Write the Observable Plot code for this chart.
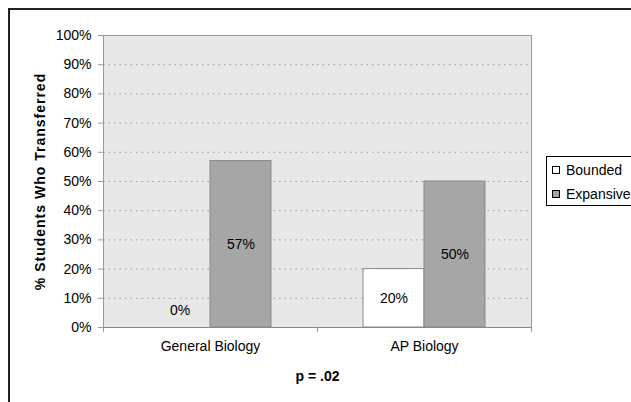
<!DOCTYPE html>
<html>
<head>
<meta charset="utf-8">
<script src="https://cdn.jsdelivr.net/npm/d3@7"></script>
<script src="https://cdn.jsdelivr.net/npm/@observablehq/plot@0.6"></script>
<style>
  html, body { margin: 0; padding: 0; background: #fff; overflow: hidden; }
  #wrap { position: relative; width: 631px; height: 402px; font-family: "Liberation Sans", Arial, sans-serif; overflow: hidden; }
  #chart svg { display: block; }
  .edge { position: absolute; z-index: 5; background: #222; pointer-events: none; }
  #legend { position: absolute; z-index: 6; left: 546px; top: 156px; width: 120px; height: 50px; border: 1px solid #000; background: #fff; font-size: 14px; box-sizing: border-box; }
  .item { position: absolute; left: 5px; display: flex; align-items: center; line-height: 16px; }
  .sw { width: 6px; height: 6px; border: 1px solid #000; margin-right: 6px; }
  svg [aria-label="y-axis label"] { font-weight: bold; letter-spacing: 1px; }
  svg [aria-label="fx-axis label"] { font-weight: bold; }
</style>
</head>
<body>
<div id="wrap">
  <div id="chart"></div>
  <div class="edge" style="left:8px; top:8px; width:640px; height:2px;"></div>
  <div class="edge" style="left:8px; top:8px; width:2px; height:420px;"></div>
  <div id="legend"></div>
</div>
<script>
const categories = ["General Biology", "AP Biology"];
const series = ["Bounded", "Expansive"];
const bounded = [0, 20];
const expansive = [57, 50];
const yTicks = [0, 10, 20, 30, 40, 50, 60, 70, 80, 90, 100];
const colors = ["#ffffff", "#a6a6a6"];
const yLabel = "% Students Who Transferred";
const xLabel = "p = .02";

const data = [];
categories.forEach((c, i) => {
  data.push({category: c, series: series[0], value: bounded[i]});
  data.push({category: c, series: series[1], value: expansive[i]});
});

const W = 631, H = 402, mt = 35, mb = 75, ml = 103, mr = 100;
const plotH = H - mt - mb;
const pct = d => d + "%";

const chart = Plot.plot({
  width: W, height: H,
  marginTop: mt, marginBottom: mb, marginLeft: ml, marginRight: mr,
  style: {fontFamily: "'Liberation Sans', Arial, sans-serif", fontSize: "14px", background: "transparent", color: "#000"},
  fx: {domain: categories, padding: 0},
  x: {domain: series, paddingInner: 0, paddingOuter: 0.754, axis: null},
  y: {domain: [0, 100]},
  color: {domain: series, range: colors},
  marks: [
    Plot.frame({facet: "super", fill: "#e8e8e8", stroke: null}),
    Plot.gridY(yTicks, {stroke: "#9a9a9a", strokeOpacity: 1, strokeDasharray: "1.5,4"}),
    Plot.barY(data, {fx: "category", x: "series", y: "value", fill: "series", stroke: "#888", strokeWidth: 1}),
    Plot.text(data.filter(d => d.value > 0), {fx: "category", x: "series", y: d => d.value / 2, text: d => pct(d.value), fontSize: 14}),
    Plot.text(data.filter(d => d.value === 0), {fx: "category", x: "series", y: "value", dy: -17, text: d => pct(d.value), fontSize: 14}),
    Plot.frame({facet: "super", stroke: "#999", fill: null}),
    Plot.ruleY([0], {stroke: "#888"}),
    Plot.frame({anchor: "left", stroke: "#999", insetTop: plotH, insetBottom: -4}),
    Plot.frame({facet: "super", anchor: "right", stroke: "#999", insetTop: plotH, insetBottom: -4}),
    Plot.axisY({ticks: yTicks, tickFormat: pct, tickSize: 5, tickPadding: 7, stroke: "#999", label: yLabel, labelAnchor: "center", labelArrow: "none", labelOffset: 68}),
    Plot.axisFx({anchor: "bottom", tickSize: 0, tickPadding: 14, label: xLabel, labelAnchor: "center", labelArrow: "none", labelOffset: 53})
  ]
});
document.getElementById("chart").appendChild(chart);

const legend = document.getElementById("legend");
series.forEach((s, i) => {
  const it = document.createElement("div");
  it.className = "item";
  it.style.top = (i === 0 ? 5 : 29) + "px";
  const sw = document.createElement("div");
  sw.className = "sw";
  sw.style.background = colors[i];
  const t = document.createElement("span");
  t.textContent = s;
  it.appendChild(sw);
  it.appendChild(t);
  legend.appendChild(it);
});
</script>
</body>
</html>
